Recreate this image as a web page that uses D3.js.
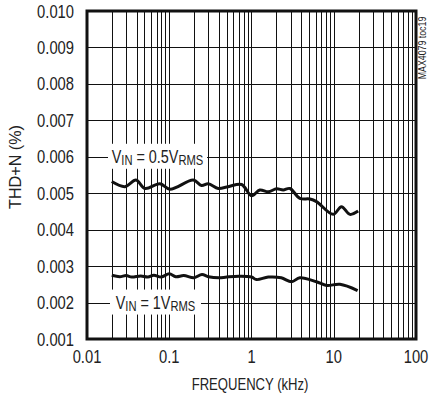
<!DOCTYPE html>
<html>
<head>
<meta charset="utf-8">
<script src="https://cdn.jsdelivr.net/npm/d3@7"></script>
<style>
  body { margin: 0; background: #fff; }
  text { font-family: "Liberation Sans", Arial, sans-serif; fill: #222; }
</style>
</head>
<body>
<div id="chart"></div>
<script>
// frequency in kHz, THD+N in %
var freqHalf = [0.02, 0.029, 0.0394, 0.0507, 0.077, 0.102, 0.196, 0.247, 0.298, 0.394, 0.521,
  0.758, 1.0, 1.26, 1.6, 2.02, 2.43, 2.93, 3.87, 5.13, 6.17, 9.84, 12.4, 15.7, 19.8];
var thdHalf = [0.00532, 0.00518, 0.00536, 0.00513, 0.00526, 0.00511, 0.00536, 0.00521, 0.00526, 0.00513, 0.00518,
  0.00524, 0.00493, 0.00509, 0.00504, 0.00512, 0.00509, 0.00513, 0.00486, 0.00484, 0.00477, 0.00442, 0.00463, 0.00442, 0.00451];

var freqOne = [0.02, 0.025, 0.03, 0.035, 0.045, 0.055, 0.065, 0.08, 0.1, 0.12, 0.15, 0.2, 0.25, 0.3,
  0.4, 0.5, 0.7, 1.0, 1.15, 1.6, 2.3, 3.07, 3.87, 6.17, 8.2, 11.9, 19.5];
var thdOne = [0.00275, 0.00271, 0.00274, 0.0027, 0.00273, 0.0027, 0.00275, 0.0027, 0.00279, 0.00271, 0.00274, 0.00268, 0.00277, 0.00271,
  0.00268, 0.0027, 0.00272, 0.0027, 0.00263, 0.0027, 0.00268, 0.00257, 0.00268, 0.00257, 0.00247, 0.0025, 0.00233];

var xTicks = [0.01, 0.1, 1, 10, 100];
var xTickLabels = ["0.01", "0.1", "1", "10", "100"];
var yTicks = [0.001, 0.002, 0.003, 0.004, 0.005, 0.006, 0.007, 0.008, 0.009, 0.010];

var W = 430, H = 402;
var m = {top: 11, right: 14, bottom: 63, left: 87};
var w = W - m.left - m.right, h = H - m.top - m.bottom;

var svg = d3.select("#chart").append("svg")
  .attr("width", W).attr("height", H);
var g = svg.append("g").attr("transform", "translate(" + m.left + "," + m.top + ")");

var x = d3.scaleLog().domain([0.01, 100]).range([0, w]);
var y = d3.scaleLinear().domain([0.001, 0.010]).range([h, 0]);

// text drawn narrow (the original uses a condensed face)
function txt(parent, tx, ty, size, anchor, str, sq, rot) {
  var tr = "translate(" + tx + "," + ty + ")" + (rot ? " rotate(" + rot + ")" : "") + " scale(" + sq + ",1)";
  return parent.append("text")
    .attr("transform", tr)
    .attr("text-anchor", anchor)
    .style("font-size", size + "px")
    .text(str);
}

// minor + major vertical grid
var vLines = [];
[0.01, 0.1, 1, 10].forEach(function(d) {
  for (var k = 1; k <= 9; k++) vLines.push(d * k);
});
vLines.push(100);

g.append("g").selectAll("line").data(vLines).enter().append("line")
  .attr("x1", function(d) { return Math.round(x(d)) + 0.5; })
  .attr("x2", function(d) { return Math.round(x(d)) + 0.5; })
  .attr("y1", 0).attr("y2", h)
  .attr("stroke", "#111").attr("stroke-width", 1);

g.append("g").selectAll("line").data(yTicks).enter().append("line")
  .attr("x1", 0).attr("x2", w)
  .attr("y1", function(d) { return Math.round(y(d)) + 0.5; })
  .attr("y2", function(d) { return Math.round(y(d)) + 0.5; })
  .attr("stroke", "#111").attr("stroke-width", 1);

// curves
var line = d3.line()
  .x(function(d) { return x(d[0]); })
  .y(function(d) { return y(d[1]); })
  .curve(d3.curveCatmullRom);

[[freqHalf, thdHalf], [freqOne, thdOne]].forEach(function(s) {
  g.append("path")
    .datum(d3.zip(s[0], s[1]))
    .attr("d", line)
    .attr("fill", "none")
    .attr("stroke", "#111")
    .attr("stroke-width", 3)
    .attr("stroke-linejoin", "round");
});

// curve labels on white boxes
function label(yv, x0, x1, main) {
  var cy = y(yv);
  g.append("rect")
    .attr("x", x0 - m.left).attr("y", cy - 13)
    .attr("width", x1 - x0).attr("height", 25)
    .attr("fill", "#fff");
  var t = txt(g, (x0 + x1) / 2 - m.left, cy + 6, 18, "middle", "", 0.8);
  t.append("tspan").text("V");
  t.append("tspan").text("IN").style("font-size", "14px").attr("dy", 2);
  t.append("tspan").text(" = " + main + "V").attr("dy", -2);
  t.append("tspan").text("RMS").style("font-size", "14px").attr("dy", 2);
}
label(0.006, 108, 207, "0.5");
label(0.002, 110, 201, "1");

// frame
g.append("rect")
  .attr("x", 0).attr("y", 0).attr("width", w).attr("height", h)
  .attr("fill", "none").attr("stroke", "#111").attr("stroke-width", 3);

// tick labels
yTicks.forEach(function(d) {
  txt(g, -13, y(d) + 6.5, 18, "end", d.toFixed(3), 0.82);
});
xTicks.forEach(function(d, i) {
  txt(g, x(d), h + 24, 18, "middle", xTickLabels[i], 0.82);
});

// axis titles
txt(svg, 250, 390, 17, "middle", "FREQUENCY (kHz)", 0.77);
txt(svg, 21, 167, 17, "middle", "THD+N (%)", 0.95, -90);
txt(svg, 426, 48, 11, "middle", "MAX4079 toc19", 0.8, -90);
</script>
</body>
</html>
